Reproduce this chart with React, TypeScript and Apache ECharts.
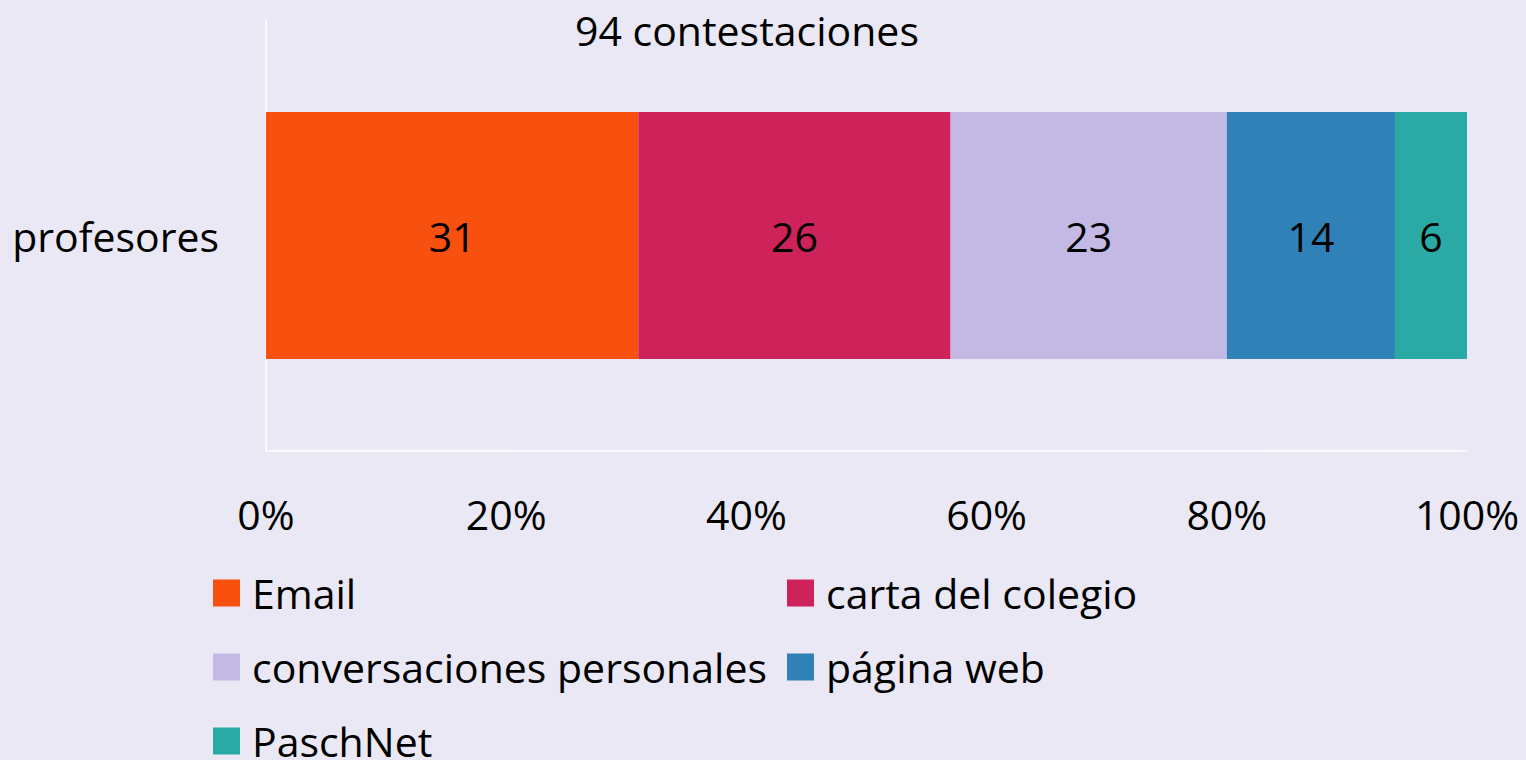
import React, { useEffect, useRef } from "react";
import * as echarts from "echarts";

const categories = ["profesores"];
const seriesNames = ["Email", "carta del colegio", "conversaciones personales", "página web", "PaschNet"];
const seriesValues = [31, 26, 23, 14, 6];
const seriesColors = ["#F8500F", "#CE235A", "#C4B9E4", "#2F81B8", "#2BAAA5"];
const xTicks = [0, 20, 40, 60, 80, 100];
const titleText = "94 contestaciones";
// legend grid: column and row index of each series entry
const legendCol = [0, 1, 0, 1, 0];
const legendRow = [0, 0, 1, 1, 2];

const FONT = "'Open Sans', 'Noto Sans', sans-serif";

export default function App() {
  const ref = useRef<HTMLDivElement>(null);
  useEffect(() => {
    document.body.style.margin = "0";
    const chart = echarts.init(ref.current!, null, { renderer: "svg" });
    const legendText = {
      fontSize: 41,
      fontFamily: FONT,
      color: "#000",
      padding: [0, 0, 0, 7],
    };
    const colX = [213, 787];
    const rowCenter = [595.5, 669.5, 743.5];
    chart.setOption({
      animation: false,
      backgroundColor: "#EAE8F5",
      title: {
        text: titleText,
        left: 575,
        top: 9,
        padding: 0,
        textStyle: { fontSize: 41, fontWeight: "normal", fontFamily: FONT, color: "#000" },
      },
      grid: { left: 266, right: 59, top: 20, bottom: 309, containLabel: false },
      xAxis: {
        type: "value",
        min: xTicks[0],
        max: xTicks[xTicks.length - 1],
        interval: 20,
        axisLine: { show: true, lineStyle: { color: "#FFFFFF", width: 1.5 } },
        axisTick: { show: false },
        splitLine: { show: false },
        axisLabel: {
          margin: 42,
          fontSize: 41,
          fontFamily: FONT,
          color: "#000",
          formatter: "{value}%",
        },
      },
      yAxis: {
        type: "category",
        data: categories,
        axisLine: { show: true, lineStyle: { color: "#FFFFFF", width: 1.5 } },
        axisTick: { show: false },
        axisLabel: { margin: 47, fontSize: 41, fontFamily: FONT, color: "#000" },
      },
      legend: seriesNames.map((name, i) => ({
        data: [name],
        orient: "horizontal",
        left: colX[legendCol[i]],
        top: rowCenter[legendRow[i]] - 23,
        padding: 0,
        itemWidth: 27,
        itemHeight: 27,
        icon: "rect",
        textStyle: legendText,
      })),
      series: seriesNames.map((name, i) => ({
        name,
        type: "bar",
        stack: "total",
        barWidth: 247,
        data: [seriesValues[i]],
        itemStyle: { color: seriesColors[i] },
        label: {
          show: true,
          position: "inside",
          fontSize: 41,
          fontFamily: FONT,
          color: "#000",
        },
      })),
    });
    return () => chart.dispose();
  }, []);
  return <div ref={ref} style={{ position: "absolute", left: 0, top: 0, width: 1526, height: 760 }} />;
}
